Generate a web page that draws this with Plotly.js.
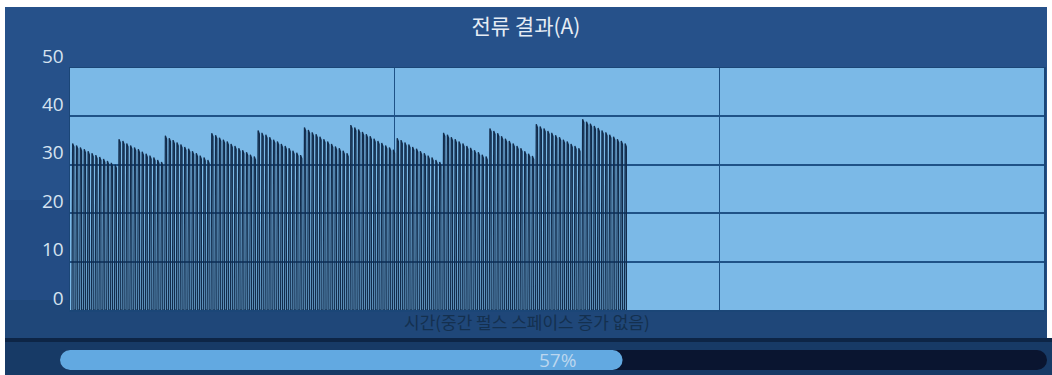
<!DOCTYPE html>
<html>
<head>
<meta charset="utf-8">
<script src="https://cdn.plot.ly/plotly-3.0.1.min.js"></script>
<style>html,body{margin:0;padding:0;background:#fff;}#chart{width:1052px;height:375px;}</style>
</head>
<body>
<div id="chart"></div>
<script>
// ---- data ----
const chartTitle = '전류 결과(A)';
const xAxisTitle = '시간(중간 펄스 스페이스 증가 없음)';
const yTicks = [0, 10, 20, 30, 40, 50];
const timeRange = [0, 300];          // time axis, three equal sections
const firstPulseTime = 0.6;
const pulsePeriod = 1.19;
const pulseWidth = 0.6;
const progressPercent = 57;

// peak current (A) of each pulse, 12 groups of 12 pulses
const group01 = [34.4,34.0,33.6,33.2,32.8,32.4,32.0,31.6,31.2,30.8,30.4,30.0];
const group02 = [35.3,34.9,34.4,34.0,33.6,33.2,32.7,32.3,31.9,31.5,31.0,30.6];
const group03 = [36.0,35.5,35.1,34.6,34.2,33.7,33.3,32.8,32.4,31.9,31.5,31.0];
const group04 = [36.5,36.1,35.6,35.2,34.8,34.3,33.9,33.4,33.0,32.6,32.1,31.7];
const group05 = [37.1,36.6,36.2,35.7,35.2,34.8,34.3,33.9,33.4,32.9,32.5,32.0];
const group06 = [37.7,37.2,36.7,36.3,35.8,35.3,34.8,34.3,33.8,33.4,32.9,32.4];
const group07 = [38.2,37.7,37.3,36.8,36.3,35.9,35.4,34.9,34.5,34.0,33.6,33.1];
const group08 = [35.5,35.1,34.6,34.2,33.7,33.3,32.8,32.4,31.9,31.5,31.0,30.6];
const group09 = [36.6,36.2,35.7,35.3,34.8,34.4,33.9,33.5,33.0,32.6,32.1,31.7];
const group10 = [37.5,37.0,36.5,35.9,35.4,34.9,34.4,33.9,33.4,32.8,32.3,31.8];
const group11 = [38.4,37.9,37.5,37.0,36.6,36.1,35.7,35.2,34.8,34.3,33.9,33.4];
const group12 = [39.4,38.9,38.5,38.0,37.6,37.1,36.7,36.2,35.8,35.3,34.9,34.4];

const peaks = [].concat(group01, group02, group03, group04, group05, group06,
                        group07, group08, group09, group10, group11, group12);

// build the pulse-train line from the peaks
const xs = [], ys = [];
peaks.forEach((p, k) => {
  const t = firstPulseTime + k * pulsePeriod;
  xs.push(t, t, t + pulseWidth * 0.35, t + pulseWidth, t + pulseWidth);
  ys.push(0, p - 0.7, p, p - 0.7, 0);
});

const W = 1052, H = 375;
const px = v => v / W;
const py = v => (H - v) / H;

function progressBar(total, color, yaxis) {
  return {
    type: 'bar', orientation: 'h', x: [total], base: [0], y: [0], width: [1],
    marker: { color: color, cornerradius: 10, line: { width: 0 } },
    hoverinfo: 'skip', xaxis: 'x2', yaxis: yaxis
  };
}

const traces = [
  {
    type: 'scatter', mode: 'lines', x: xs, y: ys,
    line: { color: '#122c4c', width: 1.25 },
    hoverinfo: 'skip', xaxis: 'x', yaxis: 'y'
  },
  progressBar(100, '#0a1530', 'y2'),
  progressBar(progressPercent, '#62a9e1', 'y3')
];

const shapes = [
  // panel
  { type: 'rect', xref: 'paper', yref: 'paper', x0: px(5), x1: px(1047), y0: py(338), y1: py(7),
    fillcolor: '#26518a', line: { width: 0 }, layer: 'below' },
  { type: 'rect', xref: 'paper', yref: 'paper', x0: px(5), x1: px(1047), y0: py(338), y1: py(200),
    fillcolor: '#234c84', line: { width: 0 }, layer: 'below' },
  { type: 'rect', xref: 'paper', yref: 'paper', x0: px(5), x1: px(1047), y0: py(338), y1: py(300),
    fillcolor: '#1f4779', line: { width: 0 }, layer: 'below' },
  // bottom strip
  { type: 'rect', xref: 'paper', yref: 'paper', x0: px(5), x1: px(1052), y0: py(375), y1: py(341),
    fillcolor: '#173a66', line: { width: 0 }, layer: 'below' },
  { type: 'rect', xref: 'paper', yref: 'paper', x0: px(5), x1: px(1052), y0: py(342), y1: py(338),
    fillcolor: '#0d2546', line: { width: 0 }, layer: 'below' },
  // plot background
  { type: 'rect', xref: 'paper', yref: 'paper', x0: px(70), x1: px(1044), y0: py(310), y1: py(68),
    fillcolor: '#7bb9e7', line: { width: 0 }, layer: 'below' }
];

const layout = {
  width: W, height: H,
  margin: { l: 0, r: 0, t: 0, b: 0, pad: 0 },
  paper_bgcolor: '#ffffff',
  plot_bgcolor: 'rgba(0,0,0,0)',
  showlegend: false,
  barmode: 'overlay',
  title: {
    text: chartTitle, x: 0.5, xanchor: 'center', y: 1 - 27 / H, yanchor: 'middle',
    xref: 'paper', yref: 'container',
    font: { family: 'Noto Sans CJK KR', size: 21, color: '#e6edf5' }
  },
  xaxis: {
    domain: [px(70), px(1044)], range: timeRange, dtick: 100, tick0: 0,
    showticklabels: false, ticks: '',
    showgrid: true, gridcolor: '#1f5287', gridwidth: 1.6,
    zeroline: false, showline: true, mirror: true, linecolor: '#1b4677', linewidth: 1.5,
    anchor: 'y'
  },
  yaxis: {
    domain: [py(310), py(68)], range: [0, 50], tickvals: yTicks,
    ticks: '', ticklabelshift: -12, ticklabelstandoff: 1,
    tickfont: { family: 'Open Sans', size: 19, color: '#d6e3f0' },
    showgrid: true, gridcolor: '#1f5287', gridwidth: 2,
    zeroline: false, showline: true, mirror: true, linecolor: '#1b4677', linewidth: 1.5,
    anchor: 'x'
  },
  xaxis2: {
    domain: [px(60), px(1047)], range: [0, 100], visible: false, anchor: 'y2', fixedrange: true
  },
  yaxis2: {
    domain: [py(370), py(350)], range: [-0.5, 0.5], visible: false, anchor: 'x2', fixedrange: true
  },
  yaxis3: {
    domain: [py(370), py(350)], range: [-0.5, 0.5], visible: false, anchor: 'x2',
    overlaying: 'y2', fixedrange: true
  },
  shapes: shapes,
  annotations: [
    { text: xAxisTitle, xref: 'paper', yref: 'paper', x: px(527), y: py(321),
      xanchor: 'center', yanchor: 'middle', showarrow: false,
      font: { family: 'Noto Sans CJK KR', size: 17, color: '#14304f' } },
    { text: progressPercent + '%', xref: 'x2', yref: 'y2', x: 50.4, y: 0,
      xanchor: 'center', yanchor: 'middle', showarrow: false,
      font: { family: 'Open Sans', size: 19, color: '#bcd7ef' } }
  ]
};

Plotly.newPlot('chart', traces, layout, { staticPlot: true, displayModeBar: false });
</script>
</body>
</html>
